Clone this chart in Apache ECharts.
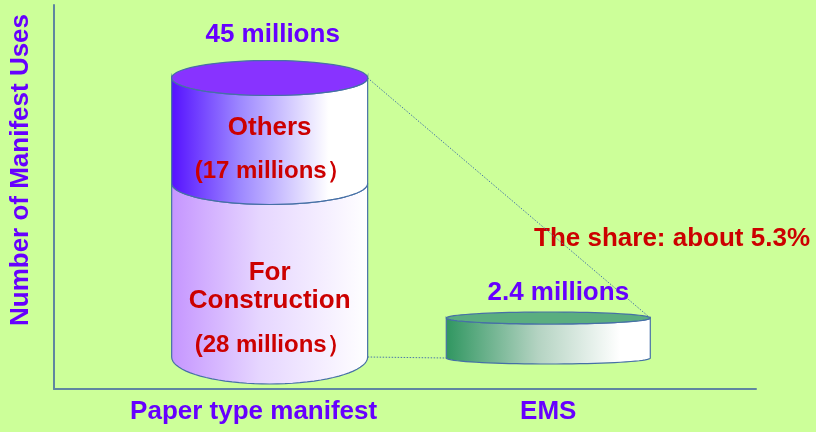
<!DOCTYPE html>
<html>
<head>
<meta charset="utf-8">
<title>Manifest uses</title>
<script src="https://cdn.jsdelivr.net/npm/echarts@6/dist/echarts.min.js"></script>
<style>
  html, body { margin: 0; padding: 0; background: #ccff99; }
  #chart { width: 816px; height: 432px; }
</style>
</head>
<body>
<div id="chart"></div>
<script>
// 数据
const categories = ['Paper type manifest', 'EMS'];
const totalValues = [45, 2.4];              // millions
const paperSegmentNames = ['For\nConstruction', 'Others'];
const paperSegmentValues = [28, 17];        // millions
const shareText = 'The share: about 5.3%';
const yAxisTitle = 'Number of Manifest Uses';

const FAMILY = '"Liberation Sans", Arial, sans-serif';
const FONT = 'bold 26px ' + FAMILY;
const PURPLE = '#6600ff';
const RED = '#cc0000';
const EDGE = '#4670a6';
const AXIS = '#5f86a0';

// cylinder look per category (pixels / colours only)
const looks = [
  {
    rx: 98, ryTop: 17.5, ryBottom: 27,
    topFill: '#8833ff',
    sides: [
      [[0, '#c595ff'], [0.45, '#e6d6ff'], [1, '#ffffff']],
      [[0, '#5511ff'], [0.35, '#9d88ff'], [0.8, '#ffffff'], [1, '#ffffff']]
    ]
  },
  {
    rx: 102, ryTop: 6, ryBottom: 6,
    topFill: '#5aae80',
    sides: [
      [[0, '#2f9660'], [0.45, '#b4d3c2'], [0.85, '#ffffff'], [1, '#ffffff']]
    ]
  }
];

// build stacked segments: [category, start, end, segIndex]
const paperData = [];
let acc = 0;
paperSegmentValues.forEach(function (v, i) {
  paperData.push([0, acc, acc + v, i]);
  acc += v;
});
const emsData = [[1, 0, totalValues[1], 0]];

function arcPoints(cx, cy, rx, ry, a0, a1, n) {
  const pts = [];
  for (let i = 0; i <= n; i++) {
    const a = a0 + (a1 - a0) * i / n;
    pts.push([cx + rx * Math.cos(a), cy + ry * Math.sin(a)]);
  }
  return pts;
}

function renderCylinder(params, api) {
  const cat = api.value(0);
  const v0 = api.value(1);
  const v1 = api.value(2);
  const seg = api.value(3);
  const look = looks[cat];
  const total = totalValues[cat];
  const pT = api.coord([cat, v1]);
  const pB = api.coord([cat, v0]);
  const cx = pT[0];
  const ryT = look.ryTop + (look.ryBottom - look.ryTop) * (1 - v1 / total);
  const ryB = look.ryTop + (look.ryBottom - look.ryTop) * (1 - v0 / total);

  const body = arcPoints(cx, pT[1], look.rx, ryT, Math.PI, 0, 40)
    .concat(arcPoints(cx, pB[1], look.rx, ryB, 0, Math.PI, 40));

  const children = [{
    type: 'polygon',
    shape: { points: body },
    style: {
      fill: new echarts.graphic.LinearGradient(0, 0, 1, 0,
        look.sides[seg].map(function (s) { return { offset: s[0], color: s[1] }; })),
      stroke: EDGE,
      lineWidth: 1.2
    }
  }];

  if (Math.abs(v1 - total) < 1e-6) {
    children.push({
      type: 'polygon',
      shape: { points: arcPoints(cx, pT[1], look.rx, ryT, 0, Math.PI * 2, 80) },
      style: { fill: look.topFill, stroke: EDGE, lineWidth: 1.2 }
    });
    children.push({
      type: 'text',
      x: cx + (cat === 0 ? 3 : 10),
      y: pT[1] - (cat === 0 ? 43 : 25),
      style: { text: total + ' millions', fill: PURPLE, font: FONT, align: 'center', verticalAlign: 'middle' }
    });
  }

  if (cat === 0) {
    children.push({
      type: 'text',
      x: cx,
      y: pB[1] - 42,
      style: {
        text: paperSegmentNames[seg], fill: RED, font: FONT,
        align: 'center', verticalAlign: 'bottom', lineHeight: 28
      }
    });
    children.push({
      type: 'text',
      x: cx + 3,
      y: pB[1] - 12,
      style: {
        text: '(' + paperSegmentValues[seg] + ' millions\uff09', fill: RED, font: 'bold 24px ' + FAMILY,
        align: 'center', verticalAlign: 'middle'
      }
    });
  }

  return { type: 'group', children: children };
}

const chart = echarts.init(document.getElementById('chart'));

const option = {
  animation: false,
  backgroundColor: '#ccff99',
  grid: { left: 53, right: 60, top: 5, bottom: 43 },
  xAxis: {
    type: 'value',
    min: -0.774,
    max: 1.7455,
    splitLine: { show: false },
    axisTick: { show: false },
    axisLine: { show: true, onZero: false, lineStyle: { color: AXIS, width: 2 } },
    axisLabel: {
      customValues: [0, 1],
      margin: 10,
      formatter: function (v) {
        return v === 0 ? '{p|' + categories[0] + '}' : '{e|' + categories[1] + '}';
      },
      rich: {
        p: { fontSize: 26, fontWeight: 'bold', fontFamily: FAMILY, color: PURPLE, padding: [0, 32, 0, 0] },
        e: { fontSize: 26, fontWeight: 'bold', fontFamily: FAMILY, color: PURPLE }
      }
    }
  },
  yAxis: [{
    type: 'value',
    min: -5.16,
    max: 56.77,
    name: yAxisTitle,
    nameLocation: 'middle',
    nameRotate: 90,
    nameGap: 20,
    nameTextStyle: {
      color: PURPLE, fontSize: 26, fontWeight: 'bold',
      fontFamily: FAMILY,
      padding: [0, 0, 0, 54]
    },
    splitLine: { show: false },
    axisTick: { show: false },
    axisLabel: { show: false },
    axisLine: { show: true, onZero: false, lineStyle: { color: AXIS, width: 2 } }
  }, {
    type: 'value',
    show: false,
    min: -1.86,
    max: 21.18,
    splitLine: { show: false }
  }],
  series: [{
    type: 'custom',
    name: 'Paper',
    yAxisIndex: 0,
    renderItem: renderCylinder,
    data: paperData
  }, {
    type: 'custom',
    name: 'EMS',
    yAxisIndex: 1,
    renderItem: renderCylinder,
    data: emsData
  }]
};

chart.setOption(option);

// dotted guide lines between the two cylinders + share note
const paperTop = chart.convertToPixel({ xAxisIndex: 0, yAxisIndex: 0 }, [0, totalValues[0]]);
const paperBot = chart.convertToPixel({ xAxisIndex: 0, yAxisIndex: 0 }, [0, 0]);
const emsTop = chart.convertToPixel({ xAxisIndex: 0, yAxisIndex: 1 }, [1, totalValues[1]]);
const emsBot = chart.convertToPixel({ xAxisIndex: 0, yAxisIndex: 1 }, [1, 0]);
const dotted = { stroke: '#4a78a8', lineWidth: 1, lineDash: [1.5, 1.5] };
chart.setOption({
  graphic: [{
    type: 'text',
    right: 6,
    top: 226,
    style: { text: shareText, fill: RED, font: FONT }
  }, {
    type: 'line',
    z: 1,
    shape: { x1: paperTop[0] + looks[0].rx, y1: paperTop[1], x2: emsTop[0] + looks[1].rx, y2: emsTop[1] },
    style: dotted
  }, {
    type: 'line',
    z: 1,
    shape: { x1: paperBot[0] + looks[0].rx, y1: paperBot[1], x2: emsBot[0] - looks[1].rx, y2: emsBot[1] },
    style: dotted
  }]
});
</script>
</body>
</html>
